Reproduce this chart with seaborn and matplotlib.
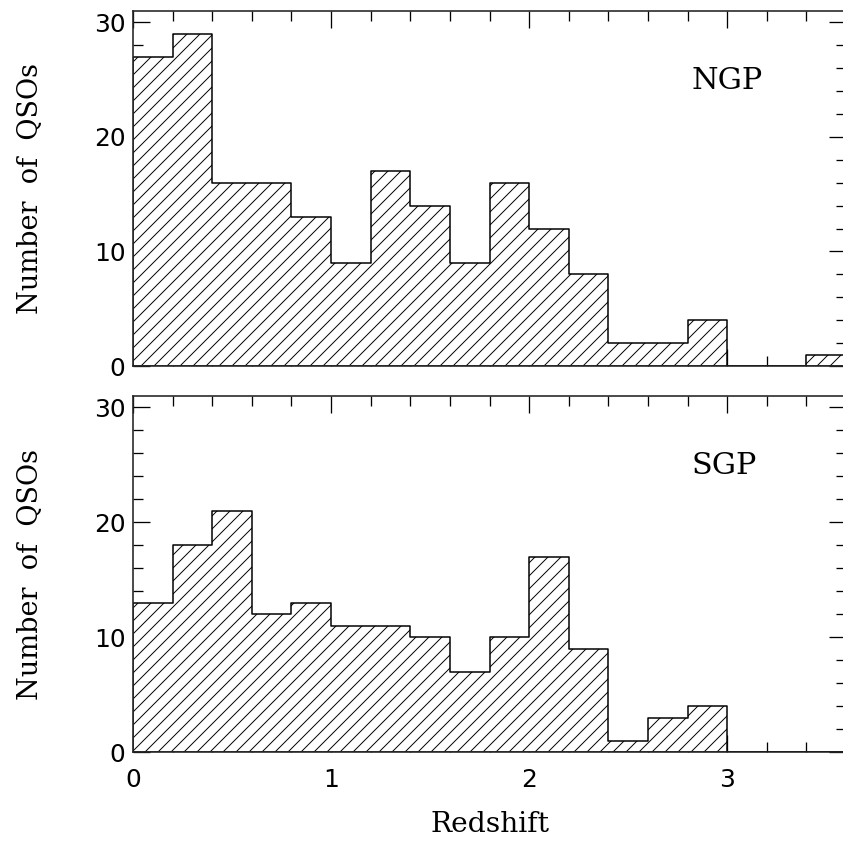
import numpy as np
import pandas as pd
import seaborn as sns
import matplotlib.pyplot as plt
from matplotlib.ticker import MultipleLocator

# Istogrammi del redshift per i due campi (bin da 0.2)
bin_edges = [0.0, 0.2, 0.4, 0.6, 0.8, 1.0, 1.2, 1.4, 1.6, 1.8, 2.0,
             2.2, 2.4, 2.6, 2.8, 3.0, 3.2, 3.4, 3.6]
ngp_counts = [27, 29, 16, 16, 13, 9, 17, 14, 9, 16, 12, 8, 2, 2, 4, 0, 0, 1]
sgp_counts = [13, 18, 21, 12, 13, 11, 11, 10, 7, 10, 17, 9, 1, 3, 4, 0, 0, 0]
panels = ['NGP', 'SGP']

centers = (np.array(bin_edges[:-1]) + np.array(bin_edges[1:])) / 2
df = pd.DataFrame({
    'redshift': np.concatenate([centers, centers]),
    'count': ngp_counts + sgp_counts,
    'field': ['NGP'] * len(ngp_counts) + ['SGP'] * len(sgp_counts),
})

sns.set_style('ticks')
plt.rcParams['hatch.linewidth'] = 0.9
plt.rcParams['text.color'] = 'black'
plt.rcParams['axes.labelcolor'] = 'black'

dpi = 78
fig = plt.figure(figsize=(843 / dpi, 846 / dpi), dpi=dpi)
ax_top = fig.add_axes([133 / 843, 1 - 366 / 846, 713 / 843, 355 / 846])
ax_bot = fig.add_axes([133 / 843, 1 - 752 / 846, 713 / 843, 356 / 846])

for ax, field in zip([ax_top, ax_bot], panels):
    sub = df[df['field'] == field]
    sns.histplot(data=sub, x='redshift', weights='count', bins=bin_edges,
                 element='step', fill=True, ax=ax, facecolor='white',
                 edgecolor='black', linewidth=1.4, hatch='//', alpha=1)
    ax.set_xlim(0, 3.6)
    ax.set_ylim(0, 31)
    ax.xaxis.set_major_locator(MultipleLocator(1))
    ax.xaxis.set_minor_locator(MultipleLocator(0.2))
    ax.yaxis.set_major_locator(MultipleLocator(10))
    ax.yaxis.set_minor_locator(MultipleLocator(2))
    ax.tick_params(which='both', direction='in', top=True, right=True,
                   width=1.2, labelsize=23, colors='black')
    ax.tick_params(axis='y', pad=7)
    ax.tick_params(axis='x', pad=15)
    ax.tick_params(which='major', length=16)
    ax.tick_params(which='minor', length=9)
    for s in ax.spines.values():
        s.set_linewidth(1.5)
    ax.set_ylabel('Number  of  QSOs', family='DejaVu Serif', fontsize=25)
    ax.yaxis.set_label_coords(-0.125, 0.5)
    ax.text(2.82, 24.9, field, family='DejaVu Serif', fontsize=28,
            va='center', ha='left')
    ax.set_xlabel('')

ax_top.tick_params(labelbottom=False)
ax_bot.set_xlabel('Redshift', family='DejaVu Serif', fontsize=26)
ax_bot.xaxis.set_label_coords(0.5, -0.165)

fig.savefig('out.png', dpi=dpi)
